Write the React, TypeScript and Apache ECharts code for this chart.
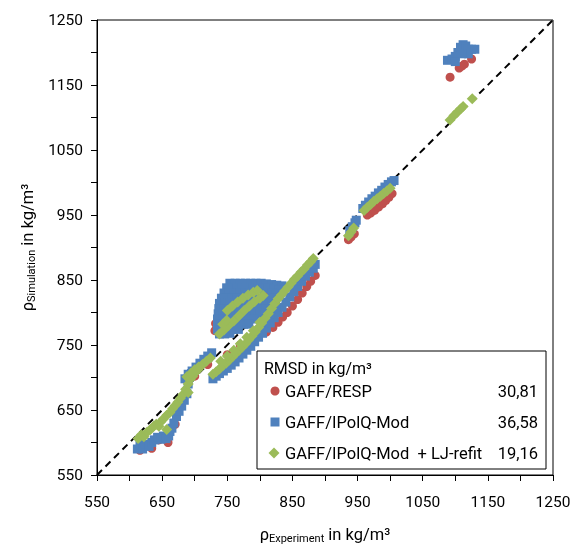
import React, { useEffect, useRef } from "react";
import * as echarts from "echarts";

// GAFF/RESP
const respData: number[][] = [
  [616, 588], [634, 591], [659, 600], [645, 604], [670, 628], [690, 696], [700, 702], [720, 720],
  [731, 772], [732, 783], [762, 776], [750, 735], [770, 750], [790, 762], [808, 826],
  [810, 770], [820, 777], [828, 785], [835, 793], [842, 800], [850, 810], [858, 820], [865, 830],
  [872, 840], [878, 848], [885, 857],
  [936, 912], [940, 916], [945, 921], [965, 950], [970, 953], [976, 957], [982, 962], [988, 967],
  [993, 972], [998, 977], [1003, 983],
  [1092, 1162], [1106, 1176], [1110, 1179], [1114, 1182], [1125, 1190],
];

// GAFF/IPolQ-Mod
const ipolqData: number[][] = [
  [612, 590], [616, 596], [620, 590], [624, 597], [630, 594], [634, 600], [638, 604], [643, 608],
  [648, 605], [652, 610], [656, 606], [660, 610], [662, 617], [665, 622], [668, 630], [672, 640],
  [676, 648], [680, 656], [684, 665], [688, 675], [690, 690], [692, 700], [695, 706],
  [685, 698], [690, 705], [696, 710], [702, 716], [708, 722], [714, 728], [720, 733], [726, 738],
  [728, 698], [733, 702], [738, 706], [744, 710], [750, 714], [756, 719], [762, 724], [768, 730],
  [774, 736], [780, 742], [786, 748], [792, 755], [798, 762], [804, 768], [810, 776], [816, 784],
  [822, 792], [828, 800], [834, 808], [840, 816], [846, 824], [852, 832], [858, 840], [864, 848],
  [870, 856], [876, 862], [882, 868], [885, 874],
  [754, 845], [762, 845], [770, 845], [778, 845], [786, 845], [794, 845], [802, 845], [810, 844],
  [818, 843], [826, 842], [834, 841],
  [749, 838], [757, 838], [765, 838], [773, 838], [781, 838], [789, 838], [797, 838], [805, 837],
  [813, 837], [821, 836], [829, 835],
  [745, 830], [753, 830], [761, 830], [769, 830], [777, 830], [785, 830], [792, 830],
  [818, 830], [825, 829],
  [741, 822], [749, 822], [757, 822], [765, 822], [773, 822], [781, 822], [789, 822], [795, 821],
  [815, 821], [822, 822],
  [738, 814], [746, 814], [754, 814], [762, 814], [770, 814], [778, 814], [786, 814], [794, 814],
  [802, 814], [810, 814], [818, 814], [824, 816],
  [737, 806], [745, 806], [753, 806], [761, 806], [769, 806], [777, 806], [785, 806], [793, 806],
  [801, 806], [809, 806], [817, 806], [825, 806],
  [736, 798], [744, 798], [752, 798], [760, 798], [768, 798], [776, 798], [784, 798], [792, 798],
  [800, 798], [808, 798], [816, 798],
  [735, 790], [743, 790], [751, 790], [759, 790], [767, 790], [775, 790], [783, 790], [791, 790],
  [735, 782], [743, 782], [751, 782], [759, 782], [767, 782], [775, 782], [783, 782],
  [735, 774], [743, 774], [751, 774], [759, 774], [767, 774],
  [738, 767], [746, 767], [754, 768],
  [938, 926], [942, 932], [946, 938], [948, 942], [958, 960], [962, 965], [967, 970], [972, 975],
  [977, 979], [982, 984], [987, 988], [992, 993], [997, 997], [1002, 1001], [1006, 1003],
  [1088, 1188], [1095, 1190], [1100, 1194], [1104, 1200], [1108, 1208], [1112, 1212], [1116, 1210],
  [1120, 1205], [1125, 1205], [1130, 1205], [1120, 1198], [1110, 1198], [1100, 1186],
];

// GAFF/IPolQ-Mod + LJ-refit
const refitData: number[][] = [
  [613, 606], [618, 612], [622, 609], [627, 616], [632, 620], [637, 625], [641, 628], [645, 625],
  [648, 632], [652, 636], [657, 620], [657, 642], [662, 646], [666, 652], [670, 657], [674, 662],
  [678, 668], [682, 674], [686, 682], [690, 677], [690, 690], [693, 697], [697, 702], [701, 708],
  [705, 712], [708, 716],
  [688, 701], [694, 706], [700, 712], [706, 716], [712, 720], [718, 725], [724, 730],
  [728, 705], [733, 709], [738, 713], [743, 718], [748, 722], [753, 727], [758, 732], [763, 737],
  [768, 742], [773, 747], [778, 752], [783, 758], [788, 764], [793, 770], [798, 777], [803, 784],
  [808, 791], [813, 798], [818, 806], [823, 814], [828, 821], [833, 827], [838, 833], [843, 839],
  [848, 845], [853, 851], [858, 856], [863, 862], [868, 867], [873, 873], [878, 878], [882, 883],
  [740, 725], [750, 733], [760, 742], [770, 752], [780, 762], [790, 772], [800, 785],
  [738, 767], [745, 773], [752, 780], [760, 787], [768, 795], [776, 803], [784, 810], [792, 817],
  [800, 822], [805, 826],
  [750, 803], [758, 810], [766, 816], [774, 822], [782, 827], [790, 831], [796, 834],
  [743, 782], [749, 788],
  [936, 918], [940, 924], [944, 930], [960, 957], [965, 962], [970, 966], [975, 971], [980, 975],
  [985, 979], [990, 983], [995, 987], [1000, 991],
  [1092, 1096], [1098, 1103], [1103, 1108], [1108, 1113], [1112, 1117], [1126, 1129],
];

const parityLine: number[][] = [[550, 550], [1250, 1250]];

const legendTitle = "RMSD in kg/m³";
const seriesNames = ["GAFF/RESP", "GAFF/IPolQ-Mod", "GAFF/IPolQ-Mod  + LJ-refit"];
const rmsdValues = ["30,81", "36,58", "19,16"];
const colors = ["#C0504D", "#4F81BD", "#9BBB59"];

const FONT = "Roboto";

export default function App() {
  const ref = useRef<HTMLDivElement>(null);
  useEffect(() => {
    if (!ref.current) return;
    const chart = echarts.init(ref.current, undefined, { renderer: "svg" });
    const axisCommon = {
      type: "value" as const,
      min: 550,
      max: 1250,
      interval: 50,
      axisLine: { show: true, lineStyle: { color: "#000", width: 1 } },
      axisTick: { show: true, inside: false, length: 6, lineStyle: { color: "#000" } },
      splitLine: { show: false },
      axisLabel: {
        color: "#000",
        fontFamily: FONT,
        fontSize: 15.5,
        formatter: (v: number) => ((v - 550) % 100 === 0 ? String(v) : ""),
      },
    };
    const nameRich = {
      r: { fontFamily: FONT, fontSize: 16.5, color: "#000", lineHeight: 20 },
      s: { fontFamily: FONT, fontSize: 11, color: "#000", lineHeight: 12, verticalAlign: "bottom" as const },
    };
    const lx = 257, ly = 351;
    const rowY = [391, 422, 453];
    chart.setOption({
      animation: false,
      grid: { left: 97, top: 20, right: 24, bottom: 70, show: true, borderColor: "#000", borderWidth: 1, backgroundColor: "transparent" },
      xAxis: {
        ...axisCommon,
        axisLabel: { ...axisCommon.axisLabel, margin: 19 },
        name: "{r|ρ}{s|Experiment}{r| in kg/m³}",
        nameLocation: "middle",
        nameGap: 49,
        nameTextStyle: { rich: nameRich },
      },
      yAxis: {
        ...axisCommon,
        axisLabel: { ...axisCommon.axisLabel, margin: 14 },
        name: "{r|ρ}{s|Simulation}{r| in kg/m³}",
        nameLocation: "middle",
        nameGap: 56,
        nameRotate: 90,
        nameTextStyle: { rich: nameRich },
      },
      series: [
        {
          type: "line",
          data: parityLine,
          symbol: "none",
          lineStyle: { color: "#000", width: 2, type: [7, 5] },
          z: 1,
          silent: true,
        },
        { type: "scatter", name: seriesNames[0], data: respData, symbol: "circle", symbolSize: 9, itemStyle: { color: colors[0], opacity: 1 }, z: 2 },
        { type: "scatter", name: seriesNames[1], data: ipolqData, symbol: "rect", symbolSize: 9, itemStyle: { color: colors[1], opacity: 1 }, z: 3 },
        { type: "scatter", name: seriesNames[2], data: refitData, symbol: "diamond", symbolSize: 11, itemStyle: { color: colors[2], opacity: 1 }, z: 4 },
      ],
      graphic: [
        { type: "rect", shape: { x: lx, y: ly, width: 289, height: 118 }, style: { fill: "#fff", stroke: "#000", lineWidth: 1 }, z: 100 },
        { type: "text", x: 264, y: 368, style: { text: legendTitle, font: `16px ${FONT}`, fill: "#000", textVerticalAlign: "middle" }, z: 101 },
        { type: "circle", shape: { cx: 275, cy: rowY[0], r: 4.5 }, style: { fill: colors[0] }, z: 101 },
        { type: "rect", shape: { x: 270.5, y: rowY[1] - 4.5, width: 9, height: 9 }, style: { fill: colors[1] }, z: 101 },
        { type: "polygon", shape: { points: [[274, rowY[2] - 5.5], [279.5, rowY[2]], [274, rowY[2] + 5.5], [268.5, rowY[2]]] }, style: { fill: colors[2] }, z: 101 },
        ...seriesNames.map((n, i) => ({
          type: "text", x: 285, y: rowY[i], z: 101,
          style: { text: n, font: `16.5px ${FONT}`, fill: "#000", textVerticalAlign: "middle" },
        })),
        ...rmsdValues.map((v, i) => ({
          type: "text", x: 538, y: rowY[i], z: 101,
          style: { text: v, font: `16.5px ${FONT}`, fill: "#000", textAlign: "right", textVerticalAlign: "middle" },
        })),
      ],
    });
    return () => chart.dispose();
  }, []);
  return <div ref={ref} style={{ position: "fixed", left: 0, top: 0, width: 577, height: 549 }} />;
}
